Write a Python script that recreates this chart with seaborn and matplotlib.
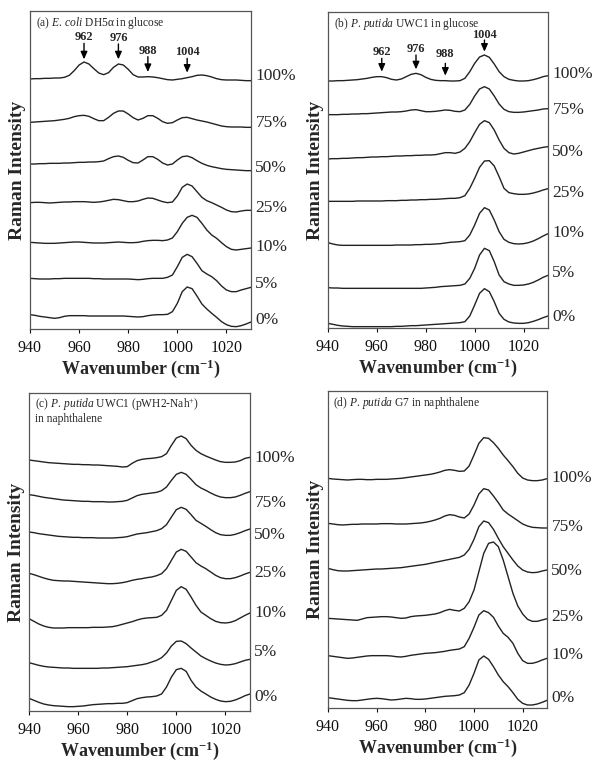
import numpy as np
import pandas as pd
import matplotlib
matplotlib.use("Agg")
import matplotlib.pyplot as plt
import seaborn as sns

# ---------------- data ----------------
WAVENUMBER = list(range(940, 1031, 2))
XTICKS = [940, 960, 980, 1000, 1020]
LEVELS_ABC = ["100%", "75%", "50%", "25%", "10%", "5%", "0%"]
LEVELS_D = ["100%", "75%", "50%", "25%", "10%", "0%"]

# raw readings are measured downward from the panel top (stack offsets included);
# intensity = SCREEN_REF - reading
SCREEN_REF = 960

A_100 = [207,206,206,205,205,204,204,202,196,182, 165,156,162,176,189,194,188,172,162,165,
         178,194,201,201,200,201,203,206,209,210, 208,206,203,200,196,195,197,201,206,209,
         210,210,210,211,212,212]
A_75 = [337,336,335,334,333,332,330,328,325,320, 317,316,319,326,332,332,322,310,303,303,
        312,323,330,325,317,317,325,335,340,338, 330,323,322,326,330,333,336,340,344,348,
        350,351,351,351,352,352]
A_50 = [462,462,461,461,460,460,460,459,459,458, 457,457,456,456,455,453,446,440,438,442,
        451,458,459,450,440,440,448,459,465,462, 450,440,438,443,452,460,466,470,473,476,
        478,479,480,481,482,482]
A_25 = [578,577,577,578,579,578,577,576,576,575, 575,575,576,577,576,574,571,568,569,572,
        575,575,573,568,564,565,570,575,578,576, 558,532,522,528,545,562,572,578,585,592,
        600,605,606,603,601,601]
A_10 = [697,698,699,700,700,700,699,698,697,696, 696,697,698,699,699,699,698,697,696,697,
        698,698,697,694,692,691,691,692,690,684, 665,640,622,616,622,640,660,675,685,698,
        710,718,720,718,716,714]
A_5 = [805,806,807,807,807,806,806,805,805,805, 805,805,805,806,806,807,807,807,807,807,
       807,808,809,808,806,805,805,805,802,795, 770,742,733,740,760,782,792,800,812,828,
       840,845,845,840,836,832]
A_0 = [914,916,919,921,923,925,923,919,917,917, 917,917,918,918,918,918,918,918,918,918,
       919,920,921,920,917,915,914,914,913,905, 880,845,831,836,858,882,897,910,922,935,
       944,949,950,947,942,936]

B_100 = [213,213,212,212,211,210,209,207,205,202, 200,200,203,208,210,207,200,193,190,194,
         202,208,211,212,212,213,213,212,205,185, 160,141,135,142,162,185,200,208,211,213,
         213,212,209,205,200,197]
B_75 = [314,314,314,313,313,312,312,311,311,310, 309,308,307,306,306,305,303,300,299,302,
        305,305,304,302,300,301,304,305,300,283, 258,237,230,237,258,282,298,305,307,307,
        306,304,302,300,297,296]
B_50 = [447,446,446,445,445,444,443,443,442,441, 441,440,440,439,438,438,437,437,436,436,
        435,435,434,431,428,428,430,426,415,395, 368,343,332,338,360,390,415,428,432,430,
        426,422,418,415,412,410]
B_25 = [574,574,574,574,574,574,573,573,573,573, 573,573,572,572,572,571,571,570,570,569,
        569,568,568,567,566,565,565,563,557,535, 505,472,453,452,468,500,535,548,551,553,
        553,552,549,545,540,536]
B_10 = [698,702,705,706,706,706,706,706,706,706, 706,706,706,706,705,705,705,705,704,704,
        703,703,702,701,699,697,696,695,692,675, 645,610,593,600,630,665,688,697,701,702,
        701,698,693,686,678,671]
B_5 = [833,834,834,835,835,835,835,835,835,835, 835,835,835,835,835,835,835,835,835,835,
       834,833,832,830,829,828,827,826,822,805, 775,735,715,722,755,795,815,822,826,826,
       825,822,817,810,802,796]
B_0 = [940,943,946,948,949,950,950,950,950,950, 950,950,950,950,949,949,948,947,947,946,
       945,944,943,942,941,940,939,938,935,918, 885,850,836,845,875,910,928,936,939,940,
       940,938,934,929,923,918]

C_100 = [204,206,208,210,212,213,214,215,216,217, 217,218,218,219,219,220,221,222,223,225,
         224,214,206,202,200,199,197,194,185,160, 138,132,140,160,175,185,192,198,204,209,
         211,211,210,206,199,196]
C_75 = [308,310,313,316,318,320,322,324,325,326, 327,328,328,329,329,329,330,330,329,328,
        325,318,311,307,305,303,301,296,285,265, 247,241,247,262,278,288,295,303,310,315,
        317,317,315,310,304,299]
C_50 = [420,422,425,427,429,431,433,434,435,436, 436,437,437,437,438,438,438,438,437,436,
        434,430,426,424,422,419,416,410,398,375, 353,346,352,368,385,394,403,413,422,428,
        430,430,427,422,416,411]
C_25 = [544,548,553,558,562,565,566,567,567,568, 569,570,571,572,573,574,575,575,574,572,
        569,565,562,560,557,555,551,545,530,505, 480,472,478,495,512,522,530,540,550,557,
        560,560,557,552,546,541]
C_10 = [680,688,696,702,706,708,708,708,707,707, 707,707,707,706,706,706,705,704,701,697,
        693,689,684,680,678,677,676,670,655,625, 595,584,592,615,640,660,670,680,688,692,
        693,691,686,678,670,663]
C_5 = [812,816,820,823,825,826,827,828,828,829, 829,829,829,829,829,828,828,827,826,825,
       824,822,820,818,815,810,805,797,783,762, 748,747,755,768,780,792,800,807,813,817,
       819,818,815,810,805,802]
C_0 = [919,925,931,936,939,941,942,943,944,944, 943,942,940,938,937,936,935,935,934,934,
       932,926,920,917,915,914,912,906,885,855, 833,829,838,865,885,897,906,915,922,927,
       929,928,924,918,911,906]

D_100 = [265,267,268,269,270,269,268,268,269,269, 268,268,268,267,266,265,263,261,259,257,
         255,253,250,246,241,239,241,244,243,228, 195,160,143,145,158,175,195,212,230,250,
         264,270,272,272,270,266]
D_75 = [400,402,404,405,404,403,403,402,402,402, 402,401,401,401,402,402,402,401,400,399,
        397,394,390,385,378,374,376,381,384,372, 345,312,296,300,318,338,360,372,382,392,
        402,408,412,413,414,414]
D_50 = [535,539,542,543,543,542,541,540,539,538, 537,537,536,535,534,533,531,529,527,525,
        523,520,517,514,511,508,505,502,495,478, 448,410,393,398,418,445,470,490,510,528,
        540,546,548,547,543,540]
D_25 = [685,686,687,688,689,690,691,687,683,682, 681,680,680,681,683,685,684,680,678,677,
        676,674,672,668,662,658,661,663,655,635, 600,545,490,460,456,470,510,560,610,648,
        672,688,694,694,690,686]
D_10 = [797,799,801,803,805,804,802,800,798,797, 797,797,797,798,800,801,799,796,794,792,
        790,789,788,786,784,781,779,777,770,745, 712,675,662,668,682,708,730,742,760,790,
        812,820,820,816,810,805]
D_0 = [923,925,927,929,931,932,932,930,928,926, 925,926,928,930,929,927,925,926,928,928,
       927,925,923,921,919,918,917,915,908,885, 850,810,798,808,830,855,875,890,908,928,
       940,945,945,942,937,931]

PEAK_LABELS = ["962", "976", "988", "1004"]
PEAK_POS = [962, 976, 988, 1004]

# ---------------- style ----------------
sns.set_style("ticks")
plt.rcParams["font.family"] = ["Liberation Serif", "DejaVu Serif"]
plt.rcParams["mathtext.fontset"] = "custom"
plt.rcParams["mathtext.rm"] = "Liberation Serif"
plt.rcParams["mathtext.it"] = "Liberation Serif:italic"
plt.rcParams["mathtext.bf"] = "Liberation Serif:bold"

LINE_COLOR = "#222222"
SPINE_COLOR = "#555555"

fig = plt.figure(figsize=(5.95, 7.61), dpi=100)
W, H = 595.0, 761.0


def make_ax(left, top, right, bottom):
    return fig.add_axes([left / W, 1 - bottom / H, (right - left) / W, (bottom - top) / H])


def draw_panel(ax, curves, levels, ylim, label_pos, title_lines, peaks=None):
    rows = []
    for lvl, vals in zip(levels, curves):
        for w, v in zip(WAVENUMBER, vals):
            rows.append((w, SCREEN_REF - v, lvl))
    df = pd.DataFrame(rows, columns=["wavenumber", "intensity", "level"])
    sns.lineplot(data=df, x="wavenumber", y="intensity", units="level",
                 estimator=None, sort=False, color=LINE_COLOR, lw=1.0, ax=ax)
    ax.set_xlim(940, 1030)
    ax.set_ylim(SCREEN_REF - ylim[1], SCREEN_REF - ylim[0])
    ax.set_xticks(XTICKS)
    ax.set_xticklabels([str(t) for t in XTICKS], fontsize=11.5)
    ax.set_yticks([])
    ax.tick_params(axis="x", direction="out", length=3, width=0.8, pad=5, colors="#111111")
    for sp in ax.spines.values():
        sp.set_visible(True)
        sp.set_color(SPINE_COLOR)
        sp.set_linewidth(0.9)
    ax.set_xlabel("Wavenumber (cm$^{\\mathbf{-1}}$)", fontsize=13, fontweight="bold", labelpad=1)
    ax.set_ylabel("Raman Intensity", fontsize=14, fontweight="bold", labelpad=3)
    tr = ax.get_yaxis_transform()
    for lvl, yp in zip(levels, label_pos):
        ax.text(1.02, SCREEN_REF - yp, lvl, transform=tr, ha="left", va="center",
                fontsize=12.5, clip_on=False)
    for i, line in enumerate(title_lines):
        ax.text(0.025, 0.963 - i * 0.045, line, transform=ax.transAxes, ha="left",
                va="center", fontsize=8.3)
    if peaks:
        for lab, pos, (ty, tail, tip) in zip(PEAK_LABELS, PEAK_POS, peaks):
            ax.text(pos, SCREEN_REF - ty, lab, ha="center", va="center",
                    fontsize=8.8, fontweight="bold")
            ax.annotate("", xy=(pos, SCREEN_REF - tip), xytext=(pos, SCREEN_REF - tail),
                        arrowprops=dict(arrowstyle="-|>,head_length=0.45,head_width=0.2",
                                        color="black", lw=1.0, shrinkA=0, shrinkB=0))


ax_a = make_ax(30, 11, 251, 329)
draw_panel(ax_a, [A_100, A_75, A_50, A_25, A_10, A_5, A_0], LEVELS_ABC, (3, 957),
           [198, 339, 474, 594, 711, 822, 930],
           ["(a) $\\mathit{E.\\,coli}$ DH5α in glucose"],
           peaks=[(80, 100, 148), (85, 102, 148), (122, 140, 186), (127, 145, 188)])

ax_b = make_ax(328, 12, 548, 328)
draw_panel(ax_b, [B_100, B_75, B_50, B_25, B_10, B_5, B_0], LEVELS_ABC, (6, 954),
           [192, 300, 426, 549, 669, 789, 921],
           ["(b) $\\mathit{P.\\,putida}$ UWC1 in glucose"],
           peaks=[(125, 145, 185), (118, 135, 178), (132, 160, 197), (76, 90, 125)])

ax_c = make_ax(29, 393, 250, 711)
draw_panel(ax_c, [C_100, C_75, C_50, C_25, C_10, C_5, C_0], LEVELS_ABC, (3, 957),
           [198, 333, 429, 543, 663, 780, 915],
           ["(c) $\\mathit{P.\\,putida}$ UWC1 (pWH2-Nah$^{+}$)", "in naphthalene"])

ax_d = make_ax(328, 391, 547, 708)
draw_panel(ax_d, [D_100, D_75, D_50, D_25, D_10, D_0], LEVELS_D, (3, 954),
           [264, 411, 543, 681, 795, 924],
           ["(d) $\\mathit{P.\\,putida}$ G7 in naphthalene"])

fig.savefig("out.png", dpi=100)
